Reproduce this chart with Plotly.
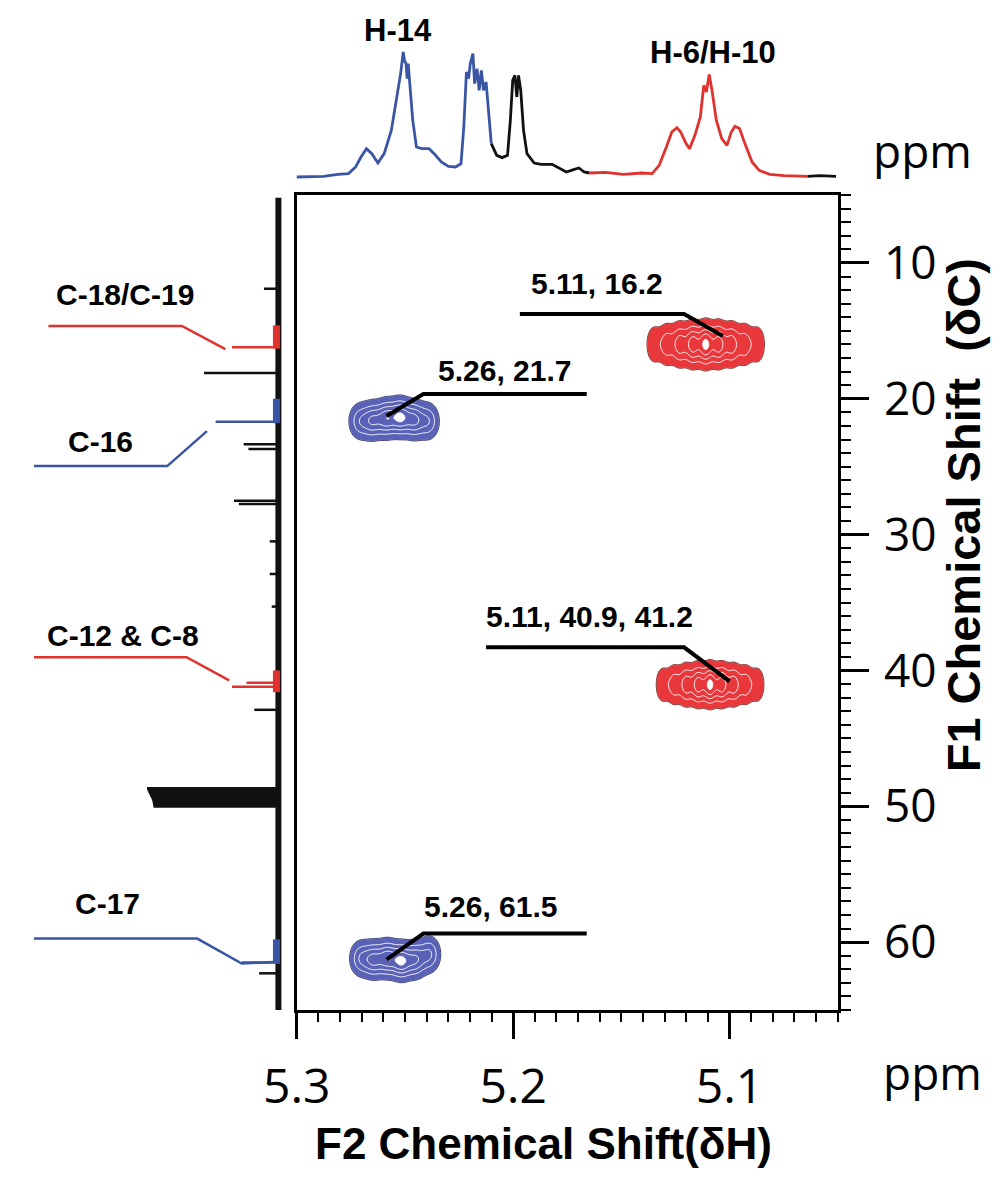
import numpy as np
import plotly.graph_objects as go

W, H = 1001, 1186
BLUE_L = '#3a55a4'
RED_L = '#e0322f'
BLACK = '#111111'
BLUE_C = '#5a62b8'
RED_C = '#e9383c'

# ---------------- top 1H projection ----------------
h_ppm = [5.3008, 5.2876, 5.2810, 5.2761, 5.2728, 5.2703, 5.2678, 5.2653, 5.2625, 5.2596,
         5.2563, 5.2533, 5.2520, 5.2508, 5.2502, 5.2495, 5.2490, 5.2485, 5.2477, 5.2464,
         5.2447, 5.2422, 5.2389, 5.2365, 5.2332, 5.2299, 5.2266, 5.2241, 5.2228, 5.2216,
         5.2206, 5.2198, 5.2186, 5.2178, 5.2167, 5.2157, 5.2147, 5.2137, 5.2125, 5.2114,
         5.2101, 5.2076, 5.2051, 5.2026, 5.2013, 5.2002, 5.1992, 5.1983, 5.1975, 5.1965,
         5.1952, 5.1936, 5.1903, 5.1870, 5.1820, 5.1787, 5.1754, 5.1721, 5.1696, 5.1672,
         5.1647, 5.1573, 5.1490, 5.1408, 5.1358, 5.1325, 5.1292, 5.1267, 5.1243, 5.1226,
         5.1201, 5.1185, 5.1160, 5.1135, 5.1119, 5.1107, 5.1094, 5.1081, 5.1061, 5.1036,
         5.1012, 5.0992, 5.0975, 5.0954, 5.0929, 5.0896, 5.0863, 5.0814, 5.0748, 5.0640,
         5.0583, 5.0508]
h_int = [0, 0.5, 2.1, 2.7, 8, 16, 22.7, 18.7, 11.2, 18.7,
         37.3, 66.7, 82.7, 100, 93, 90.7, 78.7, 90.7, 74.7, 45.3,
         24, 22.7, 22.7, 18.7, 12, 8.5, 8, 10.7, 40, 84,
         78.7, 90.7, 98.7, 74.7, 86.7, 69.3, 85.3, 69.3, 76, 56,
         26.7, 17.3, 15.5, 17.3, 45.3, 77.3, 81.3, 64, 81.3, 69.3,
         37.3, 18.7, 11.2, 10.1, 10.1, 6.7, 4, 5.9, 7.2, 4,
         3.2, 3.7, 2.1, 3.2, 2.7, 9.3, 24, 36, 39.5, 36,
         26.7, 22.7, 33.3, 48, 73.3, 68, 82.1, 69.3, 45.3, 30.7,
         25.3, 36, 40.5, 38.7, 26.7, 12, 5.3, 2.1, 1.1, 0.5,
         1.1, 0.5]
h_seg_start = [5.3008, 5.2101, 5.1647, 5.0640]
h_seg_end = [5.2101, 5.1647, 5.0640, 5.0508]
h_seg_color = [BLUE_L, BLACK, RED_L, BLACK]

# ---------------- left 13C projection ----------------
c_ppm = [11.9, 16.2, 18.1, 21.7, 23.35, 23.7, 27.5, 27.75, 30.5, 32.9, 35.3,
         40.9, 41.2, 42.9, 61.5, 62.3]
c_height = [11.0, 35.3, 56.6, 47.8, 26.5, 22.8, 33.8, 30.1, 6.6, 6.6, 5.1,
            24.3, 35.3, 18.4, 27.9, 14.7]
c_color = [BLACK, RED_L, BLACK, BLUE_L, BLACK, BLACK, BLACK, BLACK, BLACK, BLACK, BLACK,
           RED_L, RED_L, BLACK, BLUE_L, BLACK]
solvent_ppm = [48.7, 48.8, 48.9, 49.0, 49.1, 49.2, 49.3, 49.4, 49.5, 49.6, 49.7, 49.8, 49.9, 50.0]
solvent_height = [100, 99.5, 99, 98.5, 98, 97.5, 97, 96.5, 96, 95.8, 95.6, 95.4, 95.2, 95]
c_base_range = [5.2, 65.0]
c_hi_start = [14.6, 20.0, 40.0, 59.8]
c_hi_end = [16.3, 21.8, 41.6, 61.6]
c_hi_color = [RED_L, BLUE_L, RED_L, BLUE_L]

# ---------------- HSQC cross peaks ----------------
cp_x = [5.111, 5.2551, 5.109, 5.2556]
cp_y = [16.0, 21.45, 41.05, 61.2]
cp_color = [RED_C, BLUE_C, RED_C, BLUE_C]
cp_edge = ['#6e1616', '#1e2260', '#6e1616', '#1e2260']
cp_dx = [[-0.024, -0.018, -0.012, -0.006, 0, 0.006, 0.012, 0.018, 0.024],
         [-0.016, -0.0095, -0.003, 0.0035, 0.010, 0.016],
         [-0.022, -0.0165, -0.011, -0.0055, 0, 0.0055, 0.011, 0.0165, 0.022],
         [-0.017, -0.0105, -0.004, 0.0025, 0.009, 0.015]]
cp_dy = [[0, 0, 0, 0, 0, 0, 0, 0, 0],
         [0.2, 0.1, -0.1, 0.0, 0.15, 0.2],
         [0, 0, 0, 0, 0, 0, 0, 0, 0],
         [-0.3, 0.1, 0.2, 0.0, 0.1, 0.0]]
cp_amp = [[0.3, 0.45, 0.65, 0.85, 1, 0.85, 0.65, 0.45, 0.3],
          [0.55, 0.8, 1.0, 0.9, 0.75, 0.5],
          [0.3, 0.45, 0.65, 0.85, 1, 0.85, 0.65, 0.45, 0.3],
          [0.6, 0.75, 1.0, 0.9, 0.8, 0.55]]
cp_sx = [0.0024, 0.003, 0.0022, 0.003]
cp_sy = [0.95, 0.8, 0.9, 0.78]

# ---------------- callouts ----------------
lab_text = ['5.11, 16.2', '5.26, 21.7', '5.11, 40.9, 41.2', '5.26, 61.5']
lab_x = [5.1612, 5.204, 5.1647, 5.2107]
lab_y = [11.55, 17.9, 36.0, 57.4]
lead_x = [[5.1969, 5.121, 5.1031], [5.2585, 5.2415, 5.166],
          [5.2125, 5.121, 5.100], [5.2585, 5.2415, 5.166]]
lead_y = [[13.76, 13.76, 15.38], [21.27, 19.65, 19.65],
          [38.30, 38.30, 40.8], [61.29, 59.37, 59.37]]

c_lab_text = ['C-18/C-19', 'C-16', 'C-12 &amp; C-8', 'C-17']
c_lab_u = [62.5, 108.8, 58.8, 103.7]
c_lab_ppm = [12.36, 23.12, 37.41, 57.16]
c_lead_u = [[175.0, 73.5, 40.4], [186.0, 84.6, 54.4], [186.0, 69.9, 37.5], [186.0, 61.8, 27.9, 0]]
c_lead_ppm = [[14.64, 14.64, 16.34], [24.96, 24.96, 22.38], [39.03, 39.03, 40.73],
              [59.74, 59.74, 61.58, 61.44]]
c_lead_color = [RED_L, BLUE_L, RED_L, BLUE_L]

h_lab_text = ['H-14', 'H-6/H-10']
h_lab_x = [5.253, 5.1078]
h_lab_py = [30, 52]

fig = go.Figure()

# cross peaks
for i in range(len(cp_x)):
    xs = np.linspace(cp_x[i] - 0.05, cp_x[i] + 0.05, 301)
    ys = np.linspace(cp_y[i] - 4.5, cp_y[i] + 4.5, 151)
    X, Y = np.meshgrid(xs, ys)
    Z = np.zeros_like(X)
    for dx, dy, a in zip(cp_dx[i], cp_dy[i], cp_amp[i]):
        Z += a * np.exp(-0.5 * ((X - cp_x[i] - dx) / cp_sx[i]) ** 2
                        - 0.5 * ((Y - cp_y[i] - dy) / cp_sy[i]) ** 2)
    Z /= Z.max()
    col = cp_color[i]
    fig.add_trace(go.Contour(
        x=xs, y=ys, z=Z, xaxis='x', yaxis='y', showscale=False, hoverinfo='skip',
        autocontour=False,
        contours=dict(start=0.12, end=0.92, size=0.2, coloring='fill'),
        colorscale=[[0, 'rgba(255,255,255,0)'], [0.1, 'rgba(255,255,255,0)'],
                    [0.1, col], [0.9, col], [0.9, 'white'], [1, 'white']],
        line=dict(color='white', width=1)))
    fig.add_trace(go.Contour(
        x=xs, y=ys, z=Z, xaxis='x', yaxis='y', showscale=False, hoverinfo='skip',
        autocontour=False,
        contours=dict(start=0.12, end=0.12, size=1, coloring='none'),
        line=dict(color=cp_edge[i], width=1)))

# leader lines in main plot
for lx, ly in zip(lead_x, lead_y):
    fig.add_trace(go.Scatter(x=lx, y=ly, mode='lines', xaxis='x', yaxis='y',
                             line=dict(color='black', width=4), hoverinfo='skip'))

# top spectrum segments
hp = np.array(h_ppm)
hi = np.array(h_int)
for s, e, c in zip(h_seg_start, h_seg_end, h_seg_color):
    m = (hp <= s + 1e-9) & (hp >= e - 1e-9)
    fig.add_trace(go.Scatter(x=hp[m], y=hi[m], mode='lines', xaxis='x2', yaxis='y2',
                             line=dict(color=c, width=2.8), hoverinfo='skip'))

# left spectrum: baseline
fig.add_trace(go.Scatter(x=[0, 0], y=c_base_range, mode='lines', xaxis='x3', yaxis='y',
                         line=dict(color=BLACK, width=6), hoverinfo='skip'))
for s, e, c in zip(c_hi_start, c_hi_end, c_hi_color):
    fig.add_trace(go.Scatter(x=[1.5, 1.5], y=[s, e], mode='lines', xaxis='x3', yaxis='y',
                             line=dict(color=c, width=7), hoverinfo='skip'))
# solvent
sx_, sy_ = [], []
for p, h in zip(solvent_ppm, solvent_height):
    sx_ += [0, h, None]
    sy_ += [p, p, None]
fig.add_trace(go.Scatter(x=sx_, y=sy_, mode='lines', xaxis='x3', yaxis='y',
                         line=dict(color=BLACK, width=3), hoverinfo='skip'))
# peaks
for p, h, c in zip(c_ppm, c_height, c_color):
    fig.add_trace(go.Scatter(x=[0, h], y=[p, p], mode='lines', xaxis='x3', yaxis='y',
                             line=dict(color=c, width=2.5), hoverinfo='skip'))
# left callouts
for lu, lp, c in zip(c_lead_u, c_lead_ppm, c_lead_color):
    fig.add_trace(go.Scatter(x=lu, y=lp, mode='lines', xaxis='x3', yaxis='y',
                             line=dict(color=c, width=2.5), hoverinfo='skip'))

ann = []
BOLD = 'Liberation Sans, Arial, sans-serif'
for t, x, y in zip(lab_text, lab_x, lab_y):
    ann.append(dict(text='<b>%s</b>' % t, x=x, y=y, xref='x', yref='y', showarrow=False,
                    xanchor='center', yanchor='middle', font=dict(family=BOLD, size=30, color='black')))
for t, u, p in zip(c_lab_text, c_lab_u, c_lab_ppm):
    ann.append(dict(text='<b>%s</b>' % t, x=u, y=p, xref='x3', yref='y', showarrow=False,
                    xanchor='right', yanchor='middle', font=dict(family=BOLD, size=30, color='black')))
for t, x, py in zip(h_lab_text, h_lab_x, h_lab_py):
    ann.append(dict(text='<b>%s</b>' % t, x=x, y=1 - py / H, xref='x2', yref='paper', showarrow=False,
                    xanchor='center', yanchor='middle', font=dict(family=BOLD, size=31, color='black')))
TICKF = 'Open Sans, Noto Sans, sans-serif'
ann.append(dict(text='ppm', x=920 / W, y=1 - 150 / H, xref='paper', yref='paper', showarrow=False,
                xanchor='center', yanchor='middle', font=dict(family=TICKF, size=46, color='black')))
ann.append(dict(text='ppm', x=930 / W, y=1 - 1072 / H, xref='paper', yref='paper', showarrow=False,
                xanchor='center', yanchor='middle', font=dict(family=TICKF, size=46, color='black')))
ann.append(dict(text='<b>F2 Chemical Shift(δH)</b>', x=527 / W, y=1 - 1143 / H, xref='paper', yref='paper',
                showarrow=False, xanchor='center', yanchor='middle',
                font=dict(family=BOLD, size=44, color='black')))
ann.append(dict(text='<b>F1 Chemical Shift  (δC)</b>', x=962 / W, y=1 - 515 / H, xref='paper', yref='paper',
                showarrow=False, xanchor='center', yanchor='middle', textangle=-90,
                font=dict(family=BOLD, size=47, color='black')))

x_dom = [272 / W, 832 / W]
y_dom = [1 - 1010 / H, 1 - 195 / H]

fig.update_layout(
    width=W, height=H, margin=dict(l=0, r=0, t=0, b=0),
    paper_bgcolor='white', plot_bgcolor='white', showlegend=False,
    annotations=ann,
    xaxis=dict(domain=x_dom, range=[5.3, 5.05], anchor='y', showgrid=False, zeroline=False,
               showline=True, linewidth=3, linecolor='black', mirror=True,
               ticks='outside', ticklen=26, tickwidth=2.5, tickcolor='black',
               tick0=5.3, dtick=0.1, tickformat='.1f', ticklabelstandoff=6,
               tickfont=dict(family=TICKF, size=48, color='black'),
               minor=dict(ticks='outside', ticklen=9, tickwidth=2, tickcolor='black',
                          dtick=0.01, tick0=5.3, showgrid=False)),
    yaxis=dict(domain=y_dom, range=[65, 5], anchor='x', side='right', showgrid=False, zeroline=False,
               showline=True, linewidth=3, linecolor='black', mirror=True,
               ticks='outside', ticklen=28, tickwidth=2.5, tickcolor='black',
               tick0=0, dtick=10, ticklabelstandoff=6,
               tickfont=dict(family=TICKF, size=46, color='black'),
               minor=dict(ticks='outside', ticklen=10, tickwidth=2, tickcolor='black',
                          dtick=1, tick0=0, showgrid=False)),
    xaxis2=dict(domain=x_dom, range=[5.3, 5.05], anchor='y2', visible=False),
    yaxis2=dict(domain=[1 - 190 / H, 1 - 30 / H], range=[-10.4, 117.6], anchor='x2', visible=False),
    xaxis3=dict(domain=[0, 265 / W], range=[186.0, -8.82], anchor='y', visible=False),
)

fig.write_html('out.html', config={'displayModeBar': False},
               post_script="document.body.style.margin='0px';")
